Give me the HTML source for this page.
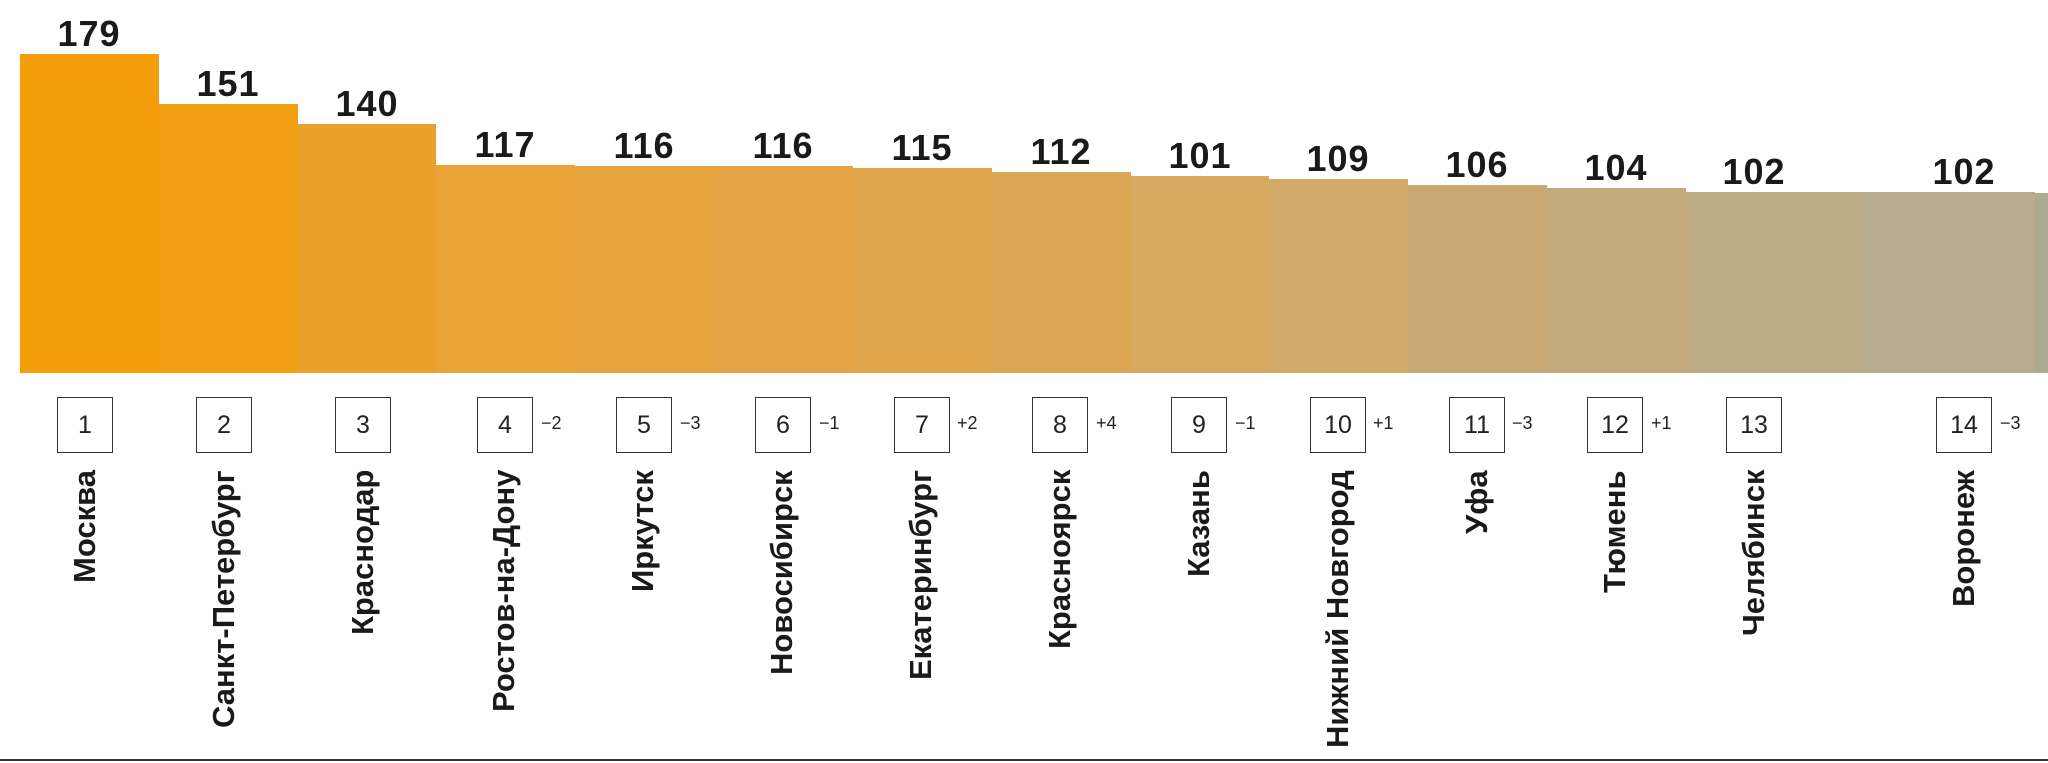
<!DOCTYPE html>
<html><head><meta charset="utf-8"><style>
html,body{margin:0;padding:0;background:#fff;}
#c{position:relative;width:2048px;height:763px;overflow:hidden;background:#fff;font-family:"Liberation Sans",sans-serif;}
.bar{position:absolute;bottom:390px;}
.num{position:absolute;width:140px;text-align:center;font-weight:bold;font-size:36px;line-height:36px;letter-spacing:1px;color:#1a1a1a;}
.box{position:absolute;top:397px;width:54px;height:54px;border:1.5px solid #333;text-align:center;line-height:54px;font-size:25px;color:#222;}
.d{position:absolute;top:413px;font-size:18px;color:#222;}
.name{position:absolute;top:470px;height:290px;width:32px;writing-mode:vertical-rl;transform:rotate(180deg);text-align:end;font-weight:bold;font-size:31px;line-height:32px;color:#1a1a1a;white-space:nowrap;}
#line{position:absolute;left:0;top:759px;width:2048px;height:2px;background:#333;}
</style></head><body><div id="c">
<div class="bar" style="left:20px;width:139px;top:54px;height:319px;background:#F39E0A"></div>
<div class="bar" style="left:159px;width:139px;top:104px;height:269px;background:#F29F12"></div>
<div class="bar" style="left:298px;width:138px;top:124px;height:249px;background:#EBA02C"></div>
<div class="bar" style="left:436px;width:139px;top:165px;height:208px;background:#E9A236"></div>
<div class="bar" style="left:575px;width:139px;top:166px;height:207px;background:#E6A33E"></div>
<div class="bar" style="left:714px;width:139px;top:166px;height:207px;background:#E4A444"></div>
<div class="bar" style="left:853px;width:139px;top:168px;height:205px;background:#E1A64B"></div>
<div class="bar" style="left:992px;width:139px;top:172px;height:201px;background:#DCA654"></div>
<div class="bar" style="left:1131px;width:138px;top:176px;height:197px;background:#D8A960"></div>
<div class="bar" style="left:1269px;width:139px;top:179px;height:194px;background:#D2AA69"></div>
<div class="bar" style="left:1408px;width:139px;top:185px;height:188px;background:#CAA874"></div>
<div class="bar" style="left:1547px;width:139px;top:188px;height:185px;background:#C3A97C"></div>
<div class="bar" style="left:1686px;width:174px;top:192px;height:181px;background:#BCAA84"></div>
<div class="bar" style="left:1860px;width:175px;top:192px;height:181px;background:#B8AB8D"></div>
<div class="bar" style="left:2035px;width:13px;top:193px;height:180px;background:#AAAB93"></div>

<div class="num" style="left:19px;top:16px">179</div>
<div class="num" style="left:158px;top:66px">151</div>
<div class="num" style="left:297px;top:86px">140</div>
<div class="num" style="left:435px;top:127px">117</div>
<div class="num" style="left:574px;top:128px">116</div>
<div class="num" style="left:713px;top:128px">116</div>
<div class="num" style="left:852px;top:130px">115</div>
<div class="num" style="left:991px;top:134px">112</div>
<div class="num" style="left:1130px;top:138px">101</div>
<div class="num" style="left:1268px;top:141px">109</div>
<div class="num" style="left:1407px;top:147px">106</div>
<div class="num" style="left:1546px;top:150px">104</div>
<div class="num" style="left:1684px;top:154px">102</div>
<div class="num" style="left:1894px;top:154px">102</div>

<div class="box" style="left:57px">1</div>
<div class="box" style="left:196px">2</div>
<div class="box" style="left:335px">3</div>
<div class="box" style="left:477px">4</div><div class="d" style="left:541px">−2</div>
<div class="box" style="left:616px">5</div><div class="d" style="left:680px">−3</div>
<div class="box" style="left:755px">6</div><div class="d" style="left:819px">−1</div>
<div class="box" style="left:894px">7</div><div class="d" style="left:957px">+2</div>
<div class="box" style="left:1032px">8</div><div class="d" style="left:1096px">+4</div>
<div class="box" style="left:1171px">9</div><div class="d" style="left:1235px">−1</div>
<div class="box" style="left:1310px">10</div><div class="d" style="left:1373px">+1</div>
<div class="box" style="left:1449px">11</div><div class="d" style="left:1512px">−3</div>
<div class="box" style="left:1587px">12</div><div class="d" style="left:1651px">+1</div>
<div class="box" style="left:1726px">13</div>
<div class="box" style="left:1936px">14</div><div class="d" style="left:2000px">−3</div>

<div class="name" style="left:69px">Москва</div>
<div class="name" style="left:208px">Санкт-Петербург</div>
<div class="name" style="left:347px">Краснодар</div>
<div class="name" style="left:488px">Ростов-на-Дону</div>
<div class="name" style="left:627px">Иркутск</div>
<div class="name" style="left:766px">Новосибирск</div>
<div class="name" style="left:905px">Екатеринбург</div>
<div class="name" style="left:1044px">Красноярск</div>
<div class="name" style="left:1183px">Казань</div>
<div class="name" style="left:1322px">Нижний Новгород</div>
<div class="name" style="left:1461px">Уфа</div>
<div class="name" style="left:1599px">Тюмень</div>
<div class="name" style="left:1738px">Челябинск</div>
<div class="name" style="left:1948px">Воронеж</div>
<div id="line"></div>
</div></body></html>
